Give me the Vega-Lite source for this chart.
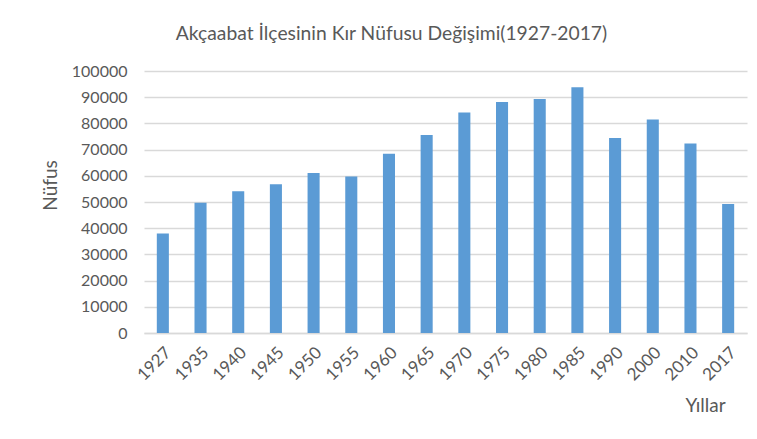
{
  "$schema": "https://vega.github.io/schema/vega-lite/v6.json",
  "autosize": "none",
  "width": 603,
  "height": 262,
  "padding": {"left": 144, "top": 71, "right": 10, "bottom": 106},
  "background": "white",
  "config": {
    "font": "Lato",
    "view": {"stroke": null}
  },
  "title": {
    "text": "Akçaabat İlçesinin Kır Nüfusu Değişimi(1927-2017)",
    "font": "Lato",
    "fontSize": 19.3,
    "fontWeight": "normal",
    "color": "#595959",
    "anchor": "middle",
    "dx": -54,
    "offset": 19
  },
  "data": {
    "values": [
      {"yil": "1927", "nufus": 38000},
      {"yil": "1935", "nufus": 49700},
      {"yil": "1940", "nufus": 54100},
      {"yil": "1945", "nufus": 56800},
      {"yil": "1950", "nufus": 61100},
      {"yil": "1955", "nufus": 59700},
      {"yil": "1960", "nufus": 68400},
      {"yil": "1965", "nufus": 75600},
      {"yil": "1970", "nufus": 84200},
      {"yil": "1975", "nufus": 88200},
      {"yil": "1980", "nufus": 89300},
      {"yil": "1985", "nufus": 93800},
      {"yil": "1990", "nufus": 74400},
      {"yil": "2000", "nufus": 81500},
      {"yil": "2010", "nufus": 72300},
      {"yil": "2017", "nufus": 49200}
    ]
  },
  "mark": {"type": "bar", "color": "#5B9BD5"},
  "encoding": {
    "x": {
      "field": "yil",
      "type": "ordinal",
      "sort": null,
      "scale": {"paddingInner": 0.68, "paddingOuter": 0.34},
      "axis": {
        "title": "Yıllar",
        "titleFont": "Lato",
        "titleFontSize": 19,
        "titleFontWeight": "normal",
        "titleColor": "#595959",
        "titleX": 561,
        "titleY": 72,
        "titleAlign": "center",
        "titleBaseline": "middle",
        "labelAngle": -45,
        "labelFontSize": 17,
        "labelColor": "#595959",
        "labelPadding": 11,
        "ticks": false,
        "domainColor": "#D9D9D9",
        "domainWidth": 1.5
      }
    },
    "y": {
      "field": "nufus",
      "type": "quantitative",
      "scale": {"domain": [0, 100000], "nice": false},
      "axis": {
        "title": "Nüfus",
        "titleFont": "Lato",
        "titleFontSize": 19,
        "titleFontWeight": "normal",
        "titleColor": "#595959",
        "titleX": -94,
        "titleY": 114,
        "titleAlign": "center",
        "titleBaseline": "middle",
        "values": [0, 10000, 20000, 30000, 40000, 50000, 60000, 70000, 80000, 90000, 100000],
        "format": "d",
        "labelFontSize": 16,
        "labelColor": "#595959",
        "labelPadding": 17,
        "ticks": false,
        "domain": false,
        "gridColor": "#D9D9D9",
        "gridWidth": 1.5
      }
    }
  }
}
